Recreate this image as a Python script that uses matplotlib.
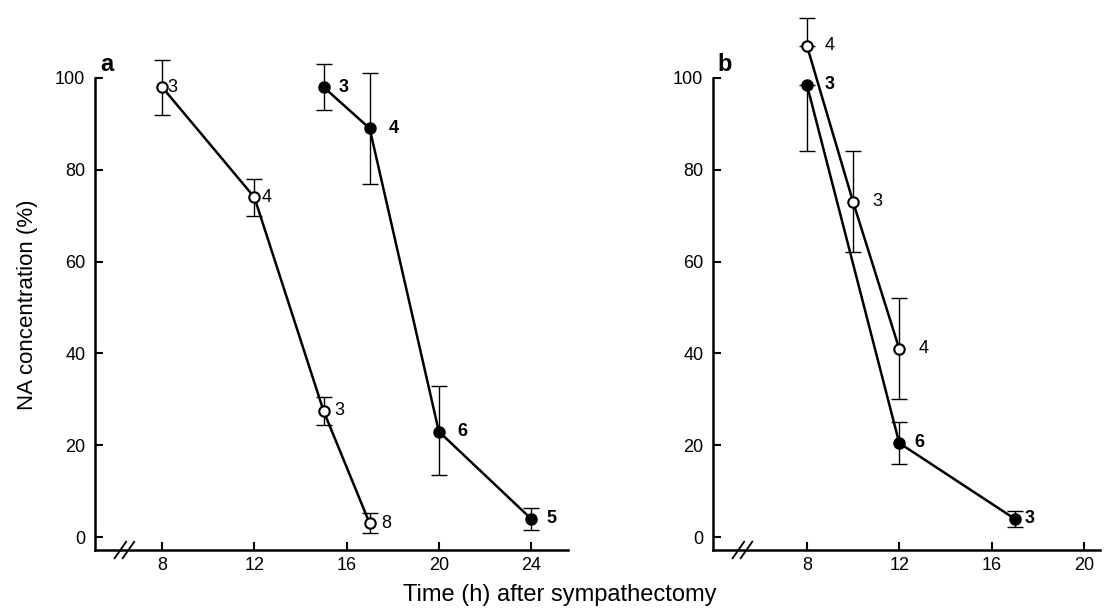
import matplotlib
matplotlib.use("Agg")
import matplotlib.pyplot as plt
import numpy as np

plt.rcParams['font.family'] = ['Liberation Sans', 'DejaVu Sans']

# Panel a
a_open_x = [8, 12, 15, 17]
a_open_y = [98, 74, 27.5, 3]
a_open_err = [6, 4, 3, 2.2]
a_open_n = ['3', '4', '3', '8']

a_closed_x = [15, 17, 20, 24]
a_closed_y = [98, 89, 23, 4]
a_closed_err_lo = [5, 12, 9.5, 2.4]
a_closed_err_hi = [5, 12, 10, 2.4]
a_closed_n = ['3', '4', '6', '5']

# Panel b
b_open_x = [8, 10, 12]
b_open_y = [107, 73, 41]
b_open_err_lo = [0, 11, 11]
b_open_err_hi = [6, 11, 11]
b_open_n = ['4', '3', '4']

b_closed_x = [8, 12, 17]
b_closed_y = [98.5, 20.5, 4]
b_closed_err_lo = [14.5, 4.5, 1.8]
b_closed_err_hi = [0, 4.5, 1.8]
b_closed_n = ['3', '6', '3']

a_ticks = [8, 12, 16, 20, 24]
b_ticks = [8, 12, 16, 20]
y_ticks = [0, 20, 40, 60, 80, 100]

W, H = 1106, 611
fig = plt.figure(figsize=(W / 100, H / 100), dpi=100)

ylim = (-2.8, 115)
bot_px, top_px = 550, 9
ax_a = fig.add_axes([95 / W, (H - bot_px) / H, (568 - 95) / W, (bot_px - top_px) / H])
ax_b = fig.add_axes([713 / W, (H - bot_px) / H, (1100 - 713) / W, (bot_px - top_px) / H])
ax_a.set_xlim(5.09, 25.6)
ax_b.set_xlim(3.93, 20.7)

line_kw = dict(color='black', lw=1.8, zorder=2)


def series(ax, x, y, lo, hi, filled, labels, offs):
    ax.errorbar(x, y, yerr=[lo, hi], fmt='none', ecolor='black', elinewidth=1.0,
                capsize=6, capthick=1.0, zorder=1)
    ax.plot(x, y, **line_kw)
    ax.plot(x, y, 'o', ms=7.5, mfc='black' if filled else 'white', mec='black',
            mew=1.5, zorder=3)
    for xi, yi, t, o in zip(x, y, labels, offs):
        ax.annotate(t, (xi, yi), xytext=(o, 0), textcoords='offset points',
                    ha='left', va='center', fontsize=13,
                    fontweight='bold' if filled else 'normal')


series(ax_a, a_open_x, a_open_y, a_open_err, a_open_err, False, a_open_n, [4, 5, 8, 8])
series(ax_a, a_closed_x, a_closed_y, a_closed_err_lo, a_closed_err_hi, True, a_closed_n,
       [11, 14, 13, 11])
series(ax_b, b_open_x, b_open_y, b_open_err_lo, b_open_err_hi, False, b_open_n, [13, 14, 14])
series(ax_b, b_closed_x, b_closed_y, b_closed_err_lo, b_closed_err_hi, True, b_closed_n,
       [13, 11, 7])

for ax, ticks, lab in [(ax_a, a_ticks, 'a'), (ax_b, b_ticks, 'b')]:
    ax.set_ylim(*ylim)
    ax.set_xticks(ticks)
    ax.set_yticks(y_ticks)
    ax.spines['top'].set_visible(False)
    ax.spines['right'].set_visible(False)
    ax.spines['left'].set_bounds(ylim[0], 100)
    for s in ('left', 'bottom'):
        ax.spines[s].set_linewidth(1.8)
    ax.tick_params(direction='in', length=6, width=1.5, labelsize=13, pad=5)
    ax.tick_params(axis='y', pad=7)
    ax.patch.set_alpha(0)
    # axis break marks
    x0 = ax.get_xlim()[0]
    for dx in (0.0, 0.35):
        bx = x0 + 1.1 + dx
        ax.plot([bx - 0.25, bx + 0.25], [-4.6, -1.0], color='black', lw=1.3,
                clip_on=False, transform=ax.transData, zorder=5)
    ax.text(0.012, 100.5, lab, transform=ax.get_yaxis_transform(), fontsize=17,
            fontweight='bold', ha='left', va='bottom')

fig.text(28 / W, 1 - 305 / H, 'NA concentration (%)', rotation=90, ha='center',
         va='center', fontsize=16)
fig.text(560 / W, 1 - 595 / H, 'Time (h) after sympathectomy', ha='center',
         va='center', fontsize=17)

fig.savefig('out.png', dpi=100)
